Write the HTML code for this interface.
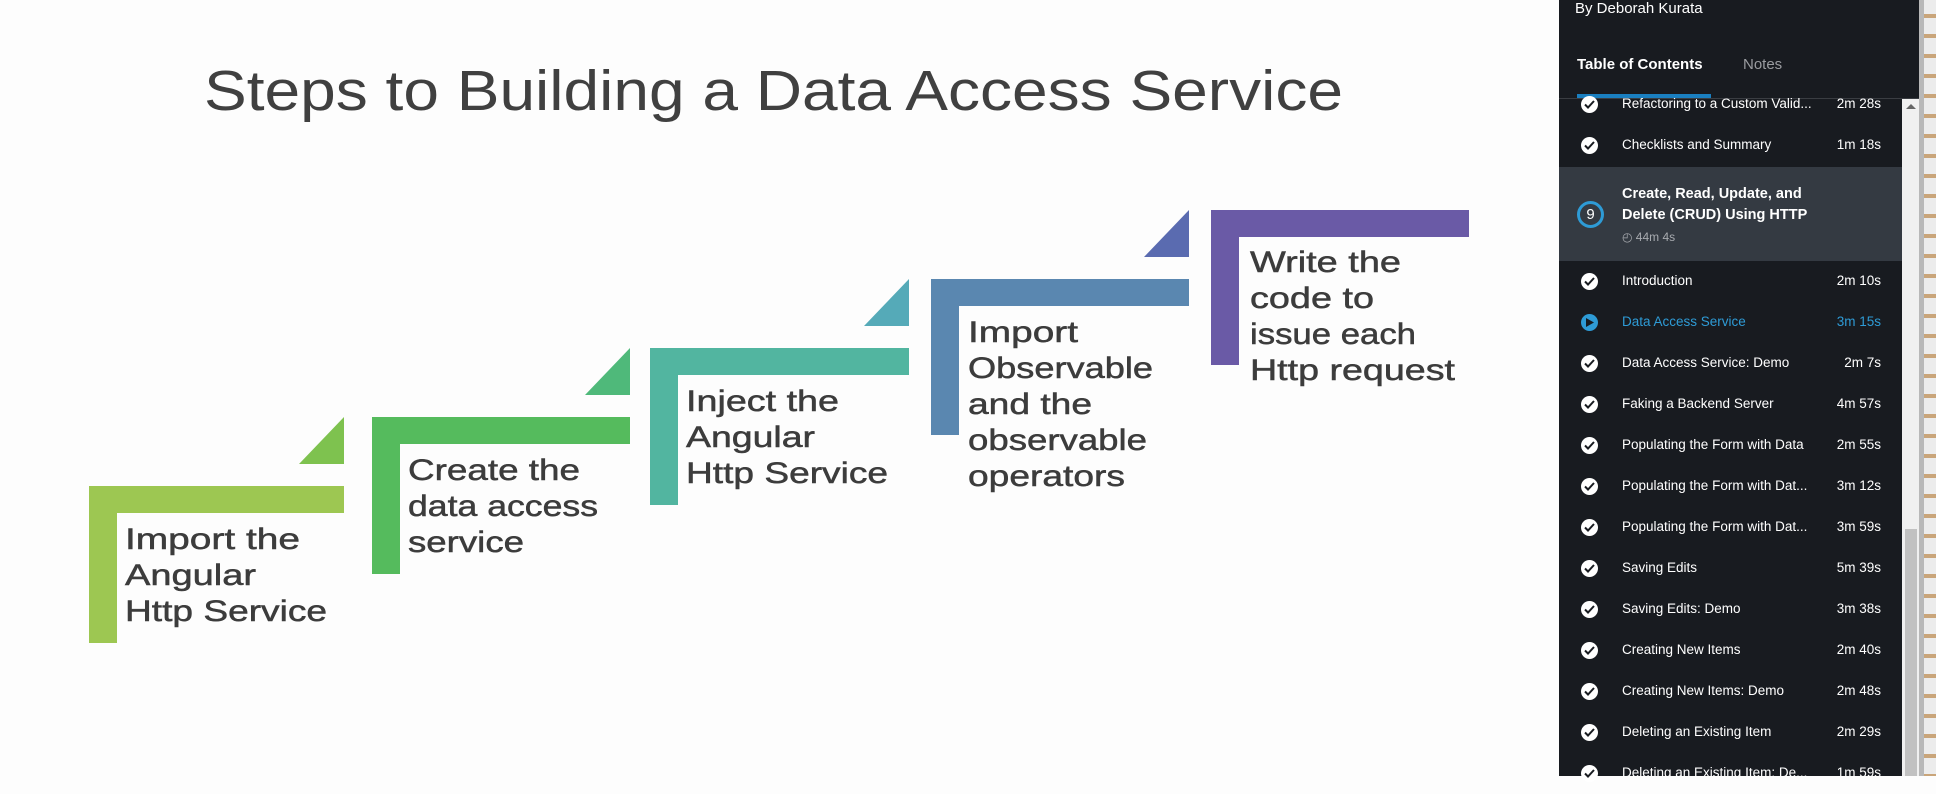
<!DOCTYPE html>
<html><head><meta charset="utf-8"><style>
*{margin:0;padding:0;box-sizing:border-box}
body{width:1936px;height:776px;overflow:hidden;background:#fdfdfd;position:relative;font-family:"Liberation Sans",sans-serif}
#side{position:absolute;left:1559px;top:0;width:360px;height:776px;background:#181b20;color:#fff}
.row{position:absolute;left:0;width:343px;height:41px;font-size:13.5px;color:#fff}
.row .ic{position:absolute;left:22px;top:12px;width:17px;height:17px;border-radius:50%;background:#fff}
.row .ic svg{position:absolute;left:3px;top:4px}
.row .t{position:absolute;left:63px;top:12px;white-space:nowrap}
.row .d{position:absolute;right:21px;top:12px;white-space:nowrap}
</style></head><body>
<svg width="1559" height="776" style="position:absolute;left:0;top:0">
<text x="204" y="110" font-size="57" fill="#404040" textLength="1139" lengthAdjust="spacingAndGlyphs" font-family="Liberation Sans">Steps to Building a Data Access Service</text>
<polygon points="344,417 344,464 299,464" fill="#7ec24f"/>
<polygon points="630,348 630,395 585,395" fill="#4fb97a"/>
<polygon points="909,279 909,326 864,326" fill="#55aab8"/>
<polygon points="1189,210 1189,257 1144,257" fill="#5a6bb0"/>
<path d="M89,486H344V513H117V643H89Z" fill="#9dc752"/>
<path d="M372,417H630V444H400V574H372Z" fill="#55bb5d"/>
<path d="M650,348H909V375H678V505H650Z" fill="#52b5a0"/>
<path d="M931,279H1189V306H959V435H931Z" fill="#5a87b0"/>
<path d="M1211,210H1469V237H1239V365H1211Z" fill="#6a5aa6"/>
<g font-size="30" fill="#3c3c3c" stroke="#3c3c3c" stroke-width="0.5">
<text x="125" y="549" textLength="175" lengthAdjust="spacingAndGlyphs">Import the</text>
<text x="125" y="585" textLength="131" lengthAdjust="spacingAndGlyphs">Angular</text>
<text x="125" y="621" textLength="202" lengthAdjust="spacingAndGlyphs">Http Service</text>
<text x="408" y="480" textLength="172" lengthAdjust="spacingAndGlyphs">Create the</text>
<text x="408" y="516" textLength="190" lengthAdjust="spacingAndGlyphs">data access</text>
<text x="408" y="552" textLength="116" lengthAdjust="spacingAndGlyphs">service</text>
<text x="686" y="411" textLength="153" lengthAdjust="spacingAndGlyphs">Inject the</text>
<text x="686" y="447" textLength="129" lengthAdjust="spacingAndGlyphs">Angular</text>
<text x="686" y="483" textLength="202" lengthAdjust="spacingAndGlyphs">Http Service</text>
<text x="968" y="342" textLength="110" lengthAdjust="spacingAndGlyphs">Import</text>
<text x="968" y="378" textLength="185" lengthAdjust="spacingAndGlyphs">Observable</text>
<text x="968" y="414" textLength="124" lengthAdjust="spacingAndGlyphs">and the</text>
<text x="968" y="450" textLength="179" lengthAdjust="spacingAndGlyphs">observable</text>
<text x="968" y="486" textLength="157" lengthAdjust="spacingAndGlyphs">operators</text>
<text x="1250" y="272" textLength="151" lengthAdjust="spacingAndGlyphs">Write the</text>
<text x="1250" y="308" textLength="124" lengthAdjust="spacingAndGlyphs">code to</text>
<text x="1250" y="344" textLength="166" lengthAdjust="spacingAndGlyphs">issue each</text>
<text x="1250" y="380" textLength="205" lengthAdjust="spacingAndGlyphs">Http request</text>
</g>
</svg>
<div id="side">
<div style="position:absolute;left:16px;top:0px;font-size:15px">By Deborah Kurata</div>
<div style="position:absolute;left:18px;top:56px;font-size:15px;font-weight:bold">Table of Contents</div>
<div style="position:absolute;left:184px;top:56px;font-size:15px;color:#9a9ca0">Notes</div>
<div style="position:absolute;left:18px;top:94px;width:134px;height:4px;background:#1a7fc0"></div>
<div style="position:absolute;left:0;top:98px;width:360px;height:1px;background:#3a3d42"></div>
<div style="position:absolute;left:0;top:167px;width:343px;height:94px;background:#343a42"></div>
<div style="position:absolute;left:18px;top:201px;width:27px;height:27px;border-radius:50%;border:3px solid #2e9bd6;color:#fff;font-size:15px;text-align:center;line-height:21px">9</div>
<div style="position:absolute;left:63px;top:184px;font-size:14.5px;font-weight:bold;line-height:21px">Create, Read, Update, and<br>Delete (CRUD) Using HTTP</div>
<div style="position:absolute;left:63px;top:230px;font-size:12px;color:#a8abb0">◴ 44m 4s</div>
<div style="position:absolute;left:343px;top:99px;width:17px;height:677px;background:#f0f0f0"></div>
<div style="position:absolute;left:346px;top:529px;width:12px;height:247px;background:#c1c1c1"></div>
<div style="position:absolute;left:347px;top:104px;width:0;height:0;border-left:5px solid transparent;border-right:5px solid transparent;border-bottom:5px solid #666"></div>
</div>
<div style="position:absolute;left:1919px;top:0;width:5px;height:776px;background:#b8b8b8"></div>
<div style="position:absolute;left:1924px;top:0;width:12px;height:776px;background:repeating-linear-gradient(#ececec 0 14px,#c9a57a 14px 18px,#ececec 18px 20px)"></div>
<div style="position:absolute;left:1559px;top:0">
<div class="row" style="top:84px"><div class="ic"><svg width="11" height="9"><path d="M1,4.5 4,7.5 10,1" stroke="#181b20" stroke-width="2" fill="none"/></svg></div><div class="t">Refactoring to a Custom Valid...</div><div class="d">2m 28s</div></div>
<div class="row" style="top:125px"><div class="ic"><svg width="11" height="9"><path d="M1,4.5 4,7.5 10,1" stroke="#181b20" stroke-width="2" fill="none"/></svg></div><div class="t">Checklists and Summary</div><div class="d">1m 18s</div></div>
<div class="row" style="top:261px"><div class="ic"><svg width="11" height="9"><path d="M1,4.5 4,7.5 10,1" stroke="#181b20" stroke-width="2" fill="none"/></svg></div><div class="t">Introduction</div><div class="d">2m 10s</div></div>
<div class="row" style="top:302px;color:#2e9bd6"><div class="ic" style="background:#2e9bd6"><svg width="11" height="9" style="left:5px;top:4px"><path d="M0,0 8,4.5 0,9Z" fill="#181b20"/></svg></div><div class="t">Data Access Service</div><div class="d">3m 15s</div></div>
<div class="row" style="top:343px"><div class="ic"><svg width="11" height="9"><path d="M1,4.5 4,7.5 10,1" stroke="#181b20" stroke-width="2" fill="none"/></svg></div><div class="t">Data Access Service: Demo</div><div class="d">2m 7s</div></div>
<div class="row" style="top:384px"><div class="ic"><svg width="11" height="9"><path d="M1,4.5 4,7.5 10,1" stroke="#181b20" stroke-width="2" fill="none"/></svg></div><div class="t">Faking a Backend Server</div><div class="d">4m 57s</div></div>
<div class="row" style="top:425px"><div class="ic"><svg width="11" height="9"><path d="M1,4.5 4,7.5 10,1" stroke="#181b20" stroke-width="2" fill="none"/></svg></div><div class="t">Populating the Form with Data</div><div class="d">2m 55s</div></div>
<div class="row" style="top:466px"><div class="ic"><svg width="11" height="9"><path d="M1,4.5 4,7.5 10,1" stroke="#181b20" stroke-width="2" fill="none"/></svg></div><div class="t">Populating the Form with Dat...</div><div class="d">3m 12s</div></div>
<div class="row" style="top:507px"><div class="ic"><svg width="11" height="9"><path d="M1,4.5 4,7.5 10,1" stroke="#181b20" stroke-width="2" fill="none"/></svg></div><div class="t">Populating the Form with Dat...</div><div class="d">3m 59s</div></div>
<div class="row" style="top:548px"><div class="ic"><svg width="11" height="9"><path d="M1,4.5 4,7.5 10,1" stroke="#181b20" stroke-width="2" fill="none"/></svg></div><div class="t">Saving Edits</div><div class="d">5m 39s</div></div>
<div class="row" style="top:589px"><div class="ic"><svg width="11" height="9"><path d="M1,4.5 4,7.5 10,1" stroke="#181b20" stroke-width="2" fill="none"/></svg></div><div class="t">Saving Edits: Demo</div><div class="d">3m 38s</div></div>
<div class="row" style="top:630px"><div class="ic"><svg width="11" height="9"><path d="M1,4.5 4,7.5 10,1" stroke="#181b20" stroke-width="2" fill="none"/></svg></div><div class="t">Creating New Items</div><div class="d">2m 40s</div></div>
<div class="row" style="top:671px"><div class="ic"><svg width="11" height="9"><path d="M1,4.5 4,7.5 10,1" stroke="#181b20" stroke-width="2" fill="none"/></svg></div><div class="t">Creating New Items: Demo</div><div class="d">2m 48s</div></div>
<div class="row" style="top:712px"><div class="ic"><svg width="11" height="9"><path d="M1,4.5 4,7.5 10,1" stroke="#181b20" stroke-width="2" fill="none"/></svg></div><div class="t">Deleting an Existing Item</div><div class="d">2m 29s</div></div>
<div class="row" style="top:753px"><div class="ic"><svg width="11" height="9"><path d="M1,4.5 4,7.5 10,1" stroke="#181b20" stroke-width="2" fill="none"/></svg></div><div class="t">Deleting an Existing Item: De...</div><div class="d">1m 59s</div></div>
</div>
</body></html>
